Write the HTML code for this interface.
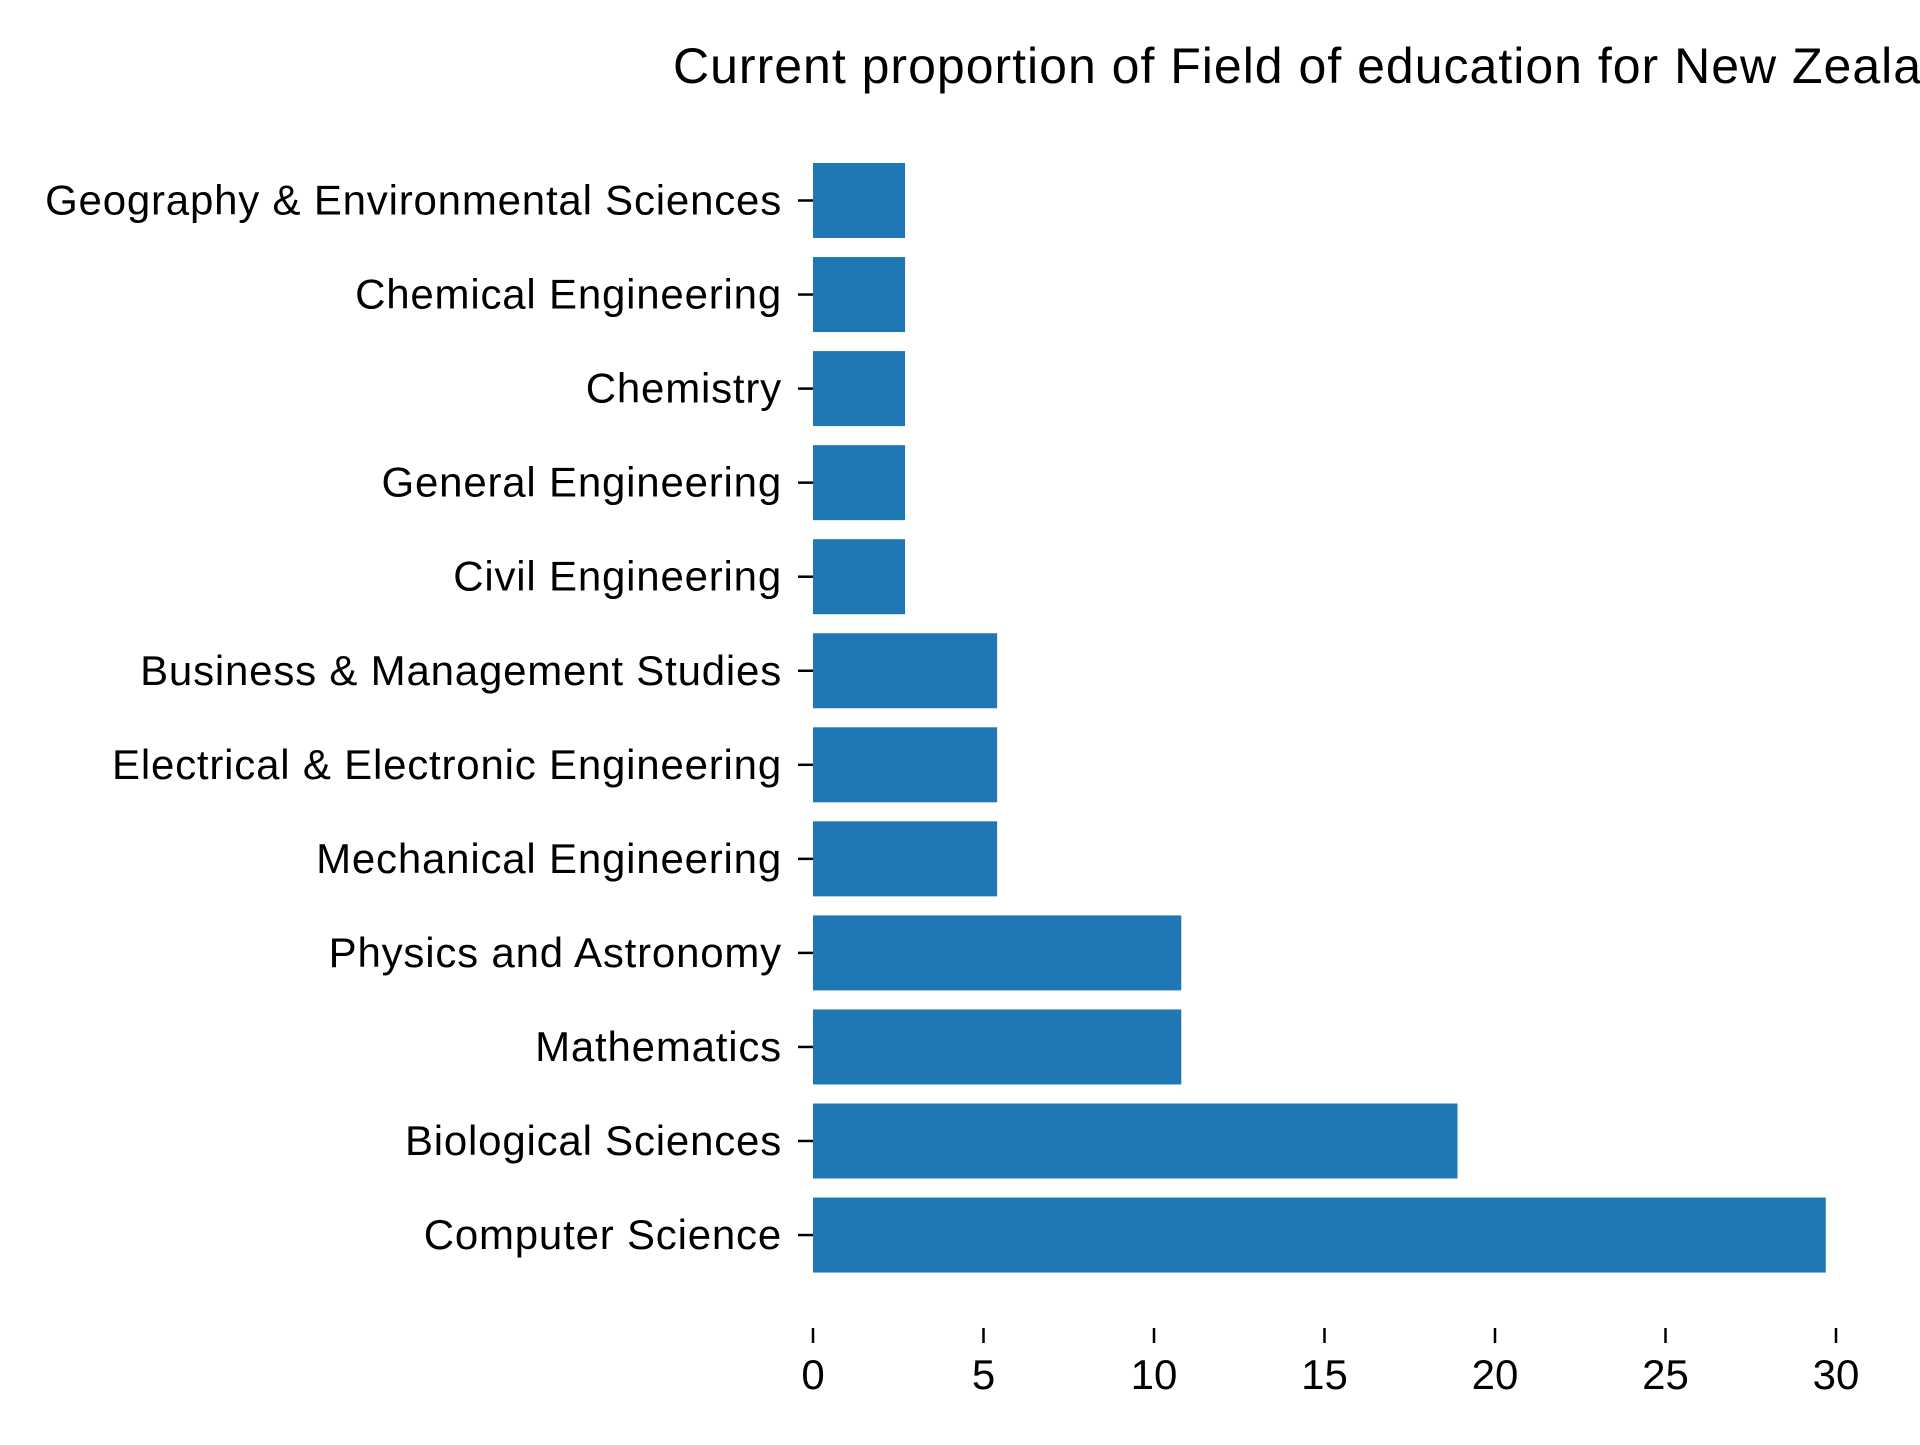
<!DOCTYPE html>
<html><head><meta charset="utf-8"><style>
html,body{margin:0;padding:0;background:#fff;overflow:hidden;}
svg text{font-family:"Liberation Sans",sans-serif;fill:#000;}
</style></head><body>
<svg id="chart" width="1920" height="1440" viewBox="0 0 1920 1440" xmlns="http://www.w3.org/2000/svg">
<text x="673" y="83" font-size="50" letter-spacing="1.0">Current proportion of Field of education for New Zealand</text>
<g id="bars"></g>
<g id="yaxis"></g>
<g id="xaxis"></g>
</svg>
<script>
const categories = ["Geography & Environmental Sciences","Chemical Engineering","Chemistry","General Engineering","Civil Engineering","Business & Management Studies","Electrical & Electronic Engineering","Mechanical Engineering","Physics and Astronomy","Mathematics","Biological Sciences","Computer Science"];
const values = [2.7,2.7,2.7,2.7,2.7,5.4,5.4,5.4,10.8,10.8,18.9,29.7];
const xTicks = [0,5,10,15,20,25,30];

const NS="http://www.w3.org/2000/svg";
const x0=813, pxPerUnit=34.1;
const xScale=v=>x0+v*pxPerUnit;
const yTop=200.5, pitch=94.05, barH=75;
const yScale=i=>yTop+i*pitch;
function mk(tag,attrs,parent){const e=document.createElementNS(NS,tag);for(const k in attrs)e.setAttribute(k,attrs[k]);parent.appendChild(e);return e;}
const bars=document.getElementById('bars'), ya=document.getElementById('yaxis'), xa=document.getElementById('xaxis');
categories.forEach((c,i)=>{
  const cy=yScale(i);
  const r=mk('rect',{x:xScale(0),y:cy-barH/2,width:xScale(values[i])-xScale(0),height:barH,fill:'#1f77b4'},bars);
  
  
  const t=mk('line',{x1:798,x2:813,y1:cy,y2:cy,stroke:'#000','stroke-width':2.5},ya);
  
  
  const l=mk('text',{x:782,y:cy+14,'font-size':42,'letter-spacing':0.8,'text-anchor':'end'},ya);
  l.textContent=c;
  
  
});
xTicks.forEach(v=>{
  const x=xScale(v);
  const t=mk('line',{x1:x,x2:x,y1:1328,y2:1343,stroke:'#000','stroke-width':2.5},xa);
  
  
  const l=mk('text',{x:x,y:1389,'font-size':42,'text-anchor':'middle'},xa);
  l.textContent=v;
  
  
});
</script>
</body></html>
